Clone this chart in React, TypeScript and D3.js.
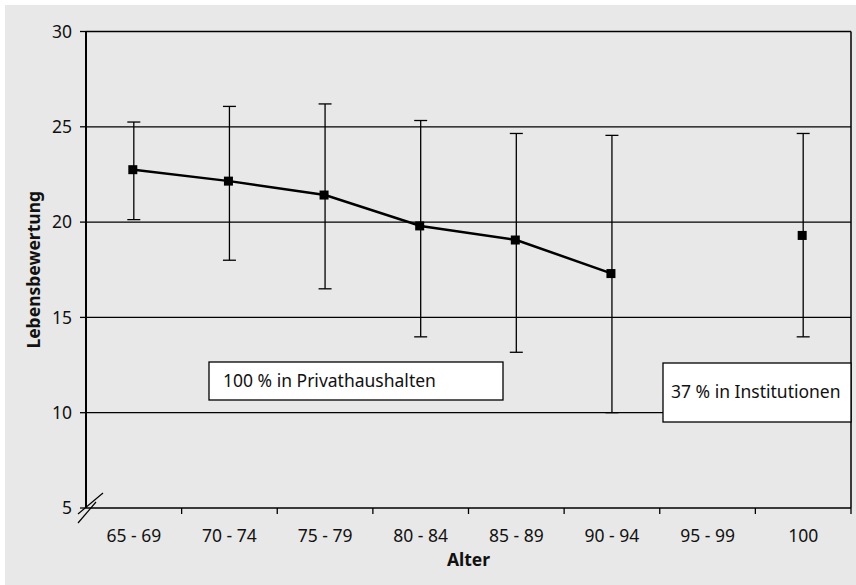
import * as d3 from 'd3'

const categories = ['65 - 69', '70 - 74', '75 - 79', '80 - 84', '85 - 89', '90 - 94', '95 - 99', '100']
const means: (number | null)[] = [22.75, 22.15, 21.42, 19.8, 19.06, 17.3, null, 19.3]
const upper: (number | null)[] = [25.25, 26.07, 26.2, 25.33, 24.65, 24.55, null, 24.65]
const lower: (number | null)[] = [20.13, 18.0, 16.5, 13.98, 13.17, 10.0, null, 13.98]
// only the first six age groups are joined by the line
const connected = [true, true, true, true, true, true, false, false]
const yTicks = [5, 10, 15, 20, 25, 30]
const gridValues = [10, 15, 20, 25, 30]

const FONT = '"Noto Sans", sans-serif'
const FS = 17.5
const W = 856
const H = 585
const margin = { top: 31.5, right: 5, bottom: 77, left: 86 }

export default function App() {
  const x = d3.scaleBand().domain(categories).range([margin.left, W - margin.right]).padding(0)
  const y = d3.scaleLinear().domain([5, 30]).range([H - margin.bottom, margin.top])
  const cx = (c: string) => (x(c) ?? 0) + x.bandwidth() / 2

  const points = categories.map((c, i) => ({ c, mean: means[i], hi: upper[i], lo: lower[i], join: connected[i] }))

  const line = d3.line<typeof points[number]>()
    .defined(d => d.join && d.mean != null)
    .x(d => cx(d.c))
    .y(d => y(d.mean as number))

  const x0 = margin.left
  const x1 = W - margin.right
  const yBase = y(5)
  const plotMidX = (x0 + x1) / 2
  const plotMidY = (y(30) + yBase) / 2

  return (
    <svg width={W} height={H} style={{ position: 'absolute', left: 0, top: 0, fontFamily: FONT }}>
      <rect x={0} y={0} width={W} height={H} fill="#fff" />
      <rect x={5} y={5} width={W - 5} height={H - 5} fill="#e8e8e8" />

      {/* grid */}
      {gridValues.map(v => (
        <line key={v} x1={x0} x2={x1} y1={y(v)} y2={y(v)} stroke="#000" strokeWidth={1.3} />
      ))}
      <line x1={x1} x2={x1} y1={y(30)} y2={yBase} stroke="#000" strokeWidth={1.5} />

      {/* y axis */}
      <line x1={x0} x2={x0} y1={y(30)} y2={yBase} stroke="#000" strokeWidth={2} />
      {yTicks.map(v => (
        <g key={v}>
          <line x1={x0 - 6} x2={x0} y1={y(v)} y2={y(v)} stroke="#000" strokeWidth={1.3} />
          <text x={x0 - 14} y={y(v)} dy="0.36em" textAnchor="end" fontSize={FS} fill="#111">{v}</text>
        </g>
      ))}

      {/* x axis */}
      <line x1={x0} x2={x1} y1={yBase} y2={yBase} stroke="#000" strokeWidth={1.5} />
      {categories.map(c => (
        <g key={c}>
          <line x1={(x(c) ?? 0) + x.bandwidth()} x2={(x(c) ?? 0) + x.bandwidth()} y1={yBase} y2={yBase + 6} stroke="#000" strokeWidth={1.3} />
          <text x={cx(c)} y={yBase + 34} textAnchor="middle" fontSize={FS} fill="#111">{c}</text>
        </g>
      ))}

      {/* axis break */}
      <line x1={x0 - 8} x2={x0 + 10} y1={yBase + 15} y2={yBase - 6} stroke="#000" strokeWidth={1.2} />
      <line x1={x0 - 8} x2={x0 + 17} y1={yBase + 6} y2={yBase - 15} stroke="#000" strokeWidth={1.2} />

      {/* annotation boxes */}
      <rect x={209} y={362} width={294} height={38} fill="#fff" stroke="#000" strokeWidth={1.3} />
      <text x={223} y={387} fontSize={FS} fill="#111">100 % in Privathaushalten</text>
      <rect x={663} y={363} width={x1 - 663} height={59} fill="#fff" stroke="#000" strokeWidth={1.3} />
      <text x={671} y={398} fontSize={FS} fill="#111">37 % in Institutionen</text>

      {/* error bars */}
      {points.filter(d => d.mean != null).map(d => (
        <g key={d.c} stroke="#000" strokeWidth={1.3}>
          <line x1={cx(d.c)} x2={cx(d.c)} y1={y(d.hi as number)} y2={y(d.lo as number)} />
          <line x1={cx(d.c) - 6.5} x2={cx(d.c) + 6.5} y1={y(d.hi as number)} y2={y(d.hi as number)} />
          <line x1={cx(d.c) - 6.5} x2={cx(d.c) + 6.5} y1={y(d.lo as number)} y2={y(d.lo as number)} />
        </g>
      ))}

      <path d={line(points) ?? ''} fill="none" stroke="#000" strokeWidth={2.5} />
      {points.filter(d => d.mean != null).map(d => (
        <rect key={d.c} x={cx(d.c) - 5.5} y={y(d.mean as number) - 4.5} width={9} height={9} fill="#000" />
      ))}

      <text x={plotMidX} y={566} textAnchor="middle" fontSize={FS} fontWeight="bold" fill="#111">Alter</text>
      <text transform={`translate(40,${plotMidY}) rotate(-90)`} textAnchor="middle" fontSize={FS} fontWeight="bold" fill="#111">Lebensbewertung</text>
    </svg>
  )
}
